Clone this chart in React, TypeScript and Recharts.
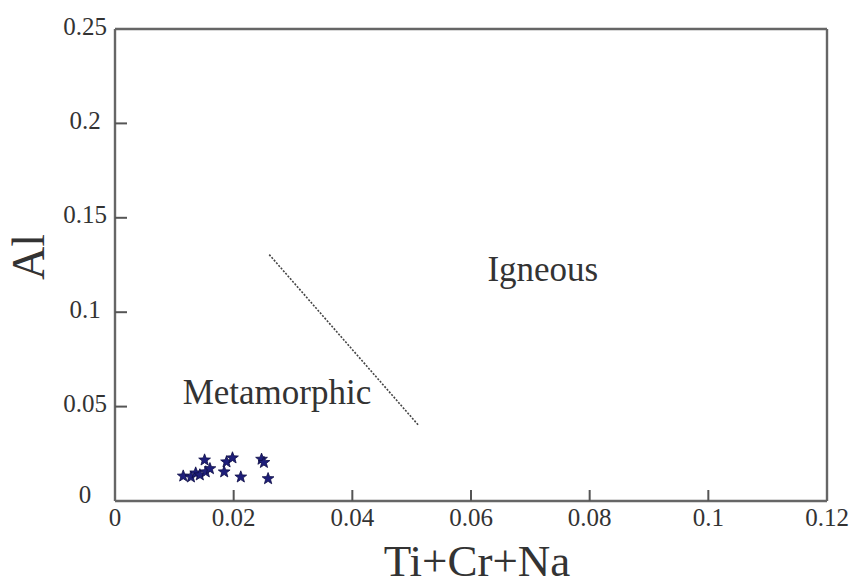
import React from 'react';
import { ScatterChart, Scatter, XAxis, YAxis, ReferenceLine, ReferenceDot } from 'recharts';

const xTicks = [0, 0.02, 0.04, 0.06, 0.08, 0.1, 0.12];
const xTickLabels = ['0', '0.02', '0.04', '0.06', '0.08', '0.1', '0.12'];
const yTicks = [0, 0.05, 0.1, 0.15, 0.2, 0.25];
const yTickLabels = ['0', '0.05', '0.1', '0.15', '0.2', '0.25'];

const sampleX = [0.0115, 0.0128, 0.0136, 0.0143, 0.0151, 0.0153, 0.016, 0.0184, 0.0188, 0.0198, 0.0212, 0.0247, 0.0251, 0.0258];
const sampleY = [0.0132, 0.0127, 0.0148, 0.0138, 0.0217, 0.0154, 0.0171, 0.0154, 0.0207, 0.0228, 0.0127, 0.0221, 0.0204, 0.0118];

const boundaryX = [0.026, 0.0511];
const boundaryY = [0.1305, 0.0403];

const fieldLabels = ['Igneous', 'Metamorphic'];
const fieldX = [0.0721, 0.0273];
const fieldY = [0.1224, 0.0577];

const data = sampleX.map((x, i) => ({ x, y: sampleY[i] }));
const xTickMarks = xTicks.slice(1, -1).map((t) => ({ x: t, y: 0 }));
const yTickMarks = yTicks.slice(1, -1).map((t) => ({ x: 0, y: t }));

const FONT = '"Liberation Serif", "Times New Roman", serif';
const TEXT = '#333333';
const AXIS = '#666666';
const TICK = '#555555';

const findIdx = (arr: number[], v: any) => {
  const n = Number(v);
  let best = -1;
  let bd = Infinity;
  arr.forEach((t, i) => {
    const d = Math.abs(t - n);
    if (d < bd) {
      bd = d;
      best = i;
    }
  });
  return bd < 1e-6 ? best : -1;
};

const Star = (props: any) => {
  const { cx, cy } = props;
  if (cx == null || cy == null) return null;
  const R = 6.2;
  const r = 2.6;
  const pts: string[] = [];
  for (let i = 0; i < 10; i++) {
    const rad = i % 2 === 0 ? R : r;
    const a = -Math.PI / 2 + (i * Math.PI) / 5;
    pts.push(`${cx + rad * Math.cos(a)},${cy + rad * Math.sin(a)}`);
  }
  return <polygon points={pts.join(' ')} fill="#1e1e7a" stroke="#0d0d45" strokeWidth={0.8} />;
};

const XTickMark = (props: any) => {
  const { cx, cy } = props;
  if (cx == null || cy == null) return null;
  return <line x1={cx} y1={cy} x2={cx} y2={cy - 11} stroke={TICK} strokeWidth={2} />;
};

const YTickMark = (props: any) => {
  const { cx, cy } = props;
  if (cx == null || cy == null) return null;
  return <line x1={cx} y1={cy} x2={cx + 12} y2={cy} stroke={TICK} strokeWidth={2} />;
};

const renderXTick = (props: any) => {
  const { x, y, payload } = props;
  const idx = findIdx(xTicks, payload && payload.value);
  return (
    <text key={`xt-${idx}-${x}`} x={x} y={y + 16} textAnchor="middle" dominantBaseline="central" style={{ fontFamily: FONT, fontSize: 25, fill: TEXT }}>
      {idx >= 0 ? xTickLabels[idx] : String(payload.value)}
    </text>
  );
};

const renderYTick = (props: any) => {
  const { x, y, payload } = props;
  const idx = findIdx(yTicks, payload && payload.value);
  return (
    <text key={`yt-${idx}-${y}`} x={x - 30} y={idx === 0 ? y - 7 : y - 3} textAnchor="middle" dominantBaseline="central" style={{ fontFamily: FONT, fontSize: 25, fill: TEXT }}>
      {idx >= 0 ? yTickLabels[idx] : String(payload.value)}
    </text>
  );
};

const YLabel = (props: any) => {
  const { viewBox } = props;
  const cx = 28;
  const cy = viewBox.y + viewBox.height / 2 - 8;
  return (
    <text x={cx} y={cy} transform={`rotate(-90, ${cx}, ${cy})`} textAnchor="middle" dominantBaseline="central" style={{ fontFamily: FONT, fontSize: 46, fill: TEXT }}>
      Al
    </text>
  );
};

const XLabel = (props: any) => {
  const { viewBox } = props;
  const cx = viewBox.x + viewBox.width / 2 + 6;
  return (
    <text x={cx} y={576} textAnchor="middle" style={{ fontFamily: FONT, fontSize: 45, fill: TEXT }}>
      Ti+Cr+Na
    </text>
  );
};

const fieldText = (label: string) => (p: any) => (
  <text x={p.cx} y={p.cy} textAnchor="middle" dominantBaseline="central" style={{ fontFamily: FONT, fontSize: 35, fill: TEXT }}>
    {label}
  </text>
);

export default function App() {
  return (
    <div style={{ position: 'absolute', left: 0, top: 0, width: 857, height: 587, background: '#fff', fontFamily: FONT }}>
      <ScatterChart width={857} height={587} margin={{ top: 29, right: 30, left: 0, bottom: 0 }}>
        <XAxis
          type="number"
          dataKey="x"
          domain={[0, 0.12]}
          ticks={xTicks}
          interval={0}
          tickSize={0}
          tickMargin={0}
          tickLine={false}
          tick={renderXTick}
          axisLine={{ stroke: AXIS, strokeWidth: 2.4 }}
          height={86}
          label={<XLabel />}
        />
        <YAxis
          type="number"
          dataKey="y"
          domain={[0, 0.25]}
          ticks={yTicks}
          interval={0}
          tickSize={0}
          tickMargin={0}
          tickLine={false}
          tick={renderYTick}
          axisLine={{ stroke: AXIS, strokeWidth: 2.4 }}
          width={115}
          label={<YLabel />}
        />
        <ReferenceLine y={0.25} stroke={AXIS} strokeWidth={2.4} />
        <ReferenceLine x={0.12} stroke={AXIS} strokeWidth={2.4} />
        <ReferenceLine
          segment={[
            { x: boundaryX[0], y: boundaryY[0] },
            { x: boundaryX[1], y: boundaryY[1] },
          ]}
          stroke="#444"
          strokeWidth={1.6}
          strokeDasharray="2 1.5"
        />
        {fieldLabels.map((lab, i) => (
          <ReferenceDot key={lab} x={fieldX[i]} y={fieldY[i]} r={0} shape={fieldText(lab)} />
        ))}
        <Scatter data={xTickMarks} shape={<XTickMark />} isAnimationActive={false} />
        <Scatter data={yTickMarks} shape={<YTickMark />} isAnimationActive={false} />
        <Scatter data={data} shape={<Star />} isAnimationActive={false} />
      </ScatterChart>
    </div>
  );
}
